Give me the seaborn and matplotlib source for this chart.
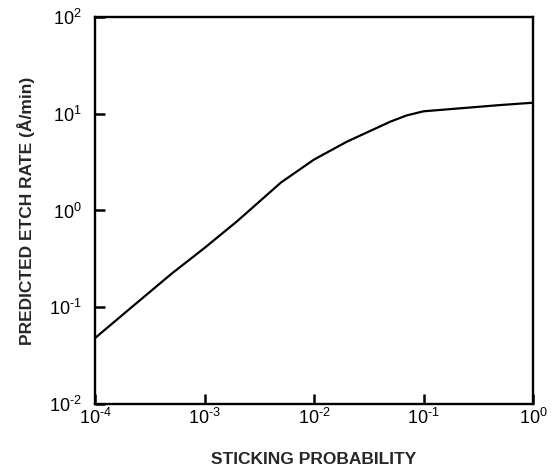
import numpy as np
import pandas as pd
import matplotlib
matplotlib.use("Agg")
import matplotlib.pyplot as plt
import seaborn as sns
from matplotlib.ticker import LogLocator, NullLocator, FuncFormatter

# Data
sticking_probability = [1e-4, 2e-4, 5e-4, 1e-3, 2e-3, 5e-3, 1e-2, 2e-2, 5e-2, 7e-2, 1e-1, 2e-1, 5e-1, 1.0]
etch_rate = [0.048, 0.093, 0.222, 0.41, 0.78, 1.95, 3.36, 5.15, 8.3, 9.6, 10.6, 11.3, 12.3, 13.0]

x_label = "STICKING PROBABILITY"
y_label = "PREDICTED ETCH RATE (Å/min)"

df = pd.DataFrame({"p": sticking_probability, "r": etch_rate})

sns.set_style("ticks")
plt.rcParams["font.family"] = ["Liberation Sans", "DejaVu Sans"]
plt.rcParams["mathtext.fontset"] = "custom"
plt.rcParams["mathtext.rm"] = "Liberation Sans"
plt.rcParams["mathtext.default"] = "regular"

fig = plt.figure(figsize=(5.55, 4.69), dpi=100)
ax = fig.add_axes([95/555, 1 - 404/469, (533-95)/555, (404-17)/469])

sns.lineplot(data=df, x="p", y="r", ax=ax, color="black", linewidth=1.6)

ax.set_xscale("log")
ax.set_yscale("log")
ax.set_xlim(1e-4, 1)
ax.set_ylim(1e-2, 1e2)
ax.xaxis.set_major_locator(LogLocator(base=10, numticks=10))
ax.yaxis.set_major_locator(LogLocator(base=10, numticks=10))
ax.xaxis.set_minor_locator(NullLocator())
ax.yaxis.set_minor_locator(NullLocator())

def fmt(v, pos):
    e = int(round(np.log10(v)))
    s = ("\u2010" + str(-e)) if e < 0 else str(e)
    return r"$10^{\mathrm{%s}}$" % s

ax.xaxis.set_major_formatter(FuncFormatter(fmt))
ax.yaxis.set_major_formatter(FuncFormatter(fmt))

for s in ax.spines.values():
    s.set_linewidth(1.7)
    s.set_color("black")

ax.tick_params(axis="both", which="major", direction="in", length=7, width=1.8,
               labelsize=13, colors="black", bottom=True, left=True, top=False, right=False)
ax.tick_params(axis="x", pad=3)
ax.tick_params(axis="y", pad=9.5)

ax.set_xlabel(x_label, fontsize=12.5, fontweight="bold", labelpad=17)
ax.set_ylabel(y_label, fontsize=12.5, fontweight="bold", labelpad=10)

fig.savefig("out.png", dpi=100, facecolor="white")
